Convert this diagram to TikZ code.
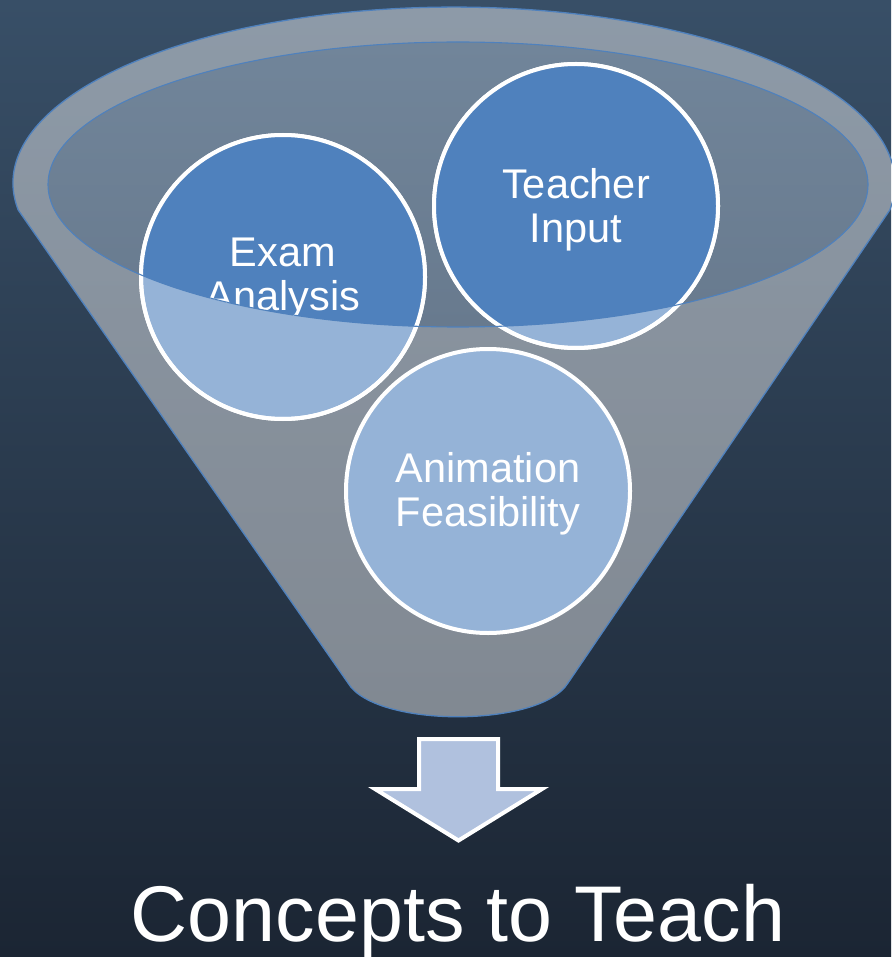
\documentclass[tikz,border=0pt]{standalone}
\usepackage{fontspec}
\setmainfont{Liberation Sans}
\definecolor{bgtop}{HTML}{384F67}
\definecolor{bgbot}{HTML}{1B2533}
\definecolor{rimline}{HTML}{4F81BD}
\definecolor{mouthtop}{HTML}{71859A}
\definecolor{mouthbot}{HTML}{687A8E}
\definecolor{darkdisc}{HTML}{4F81BD}
\definecolor{lightdisc}{HTML}{95B3D7}
\definecolor{arrowfill}{HTML}{B0C1DE}
\begin{document}
\begin{tikzpicture}[x=1pt,y=1pt,
  lbl/.style={text=white, font=\fontsize{41.5}{44}\selectfont, inner sep=0pt, anchor=base},
  disc/.style={circle, inner sep=0pt, minimum size=284pt, line width=4pt, draw=white, fill=lightdisc},
  ring/.style={draw=white, line width=4pt},
  outline/.style={draw=rimline, line width=1.3pt}]
\useasboundingbox (0,0) rectangle (891,-957);
% backdrop
\shade[top color=bgtop, bottom color=bgbot] (0,0) rectangle (891,-957);

% funnel body: top rim arc, tapering sides, rounded spout
\path[fill=white, fill opacity=0.43, outline]
  (18.2,-210) arc[start angle=188.8, end angle=-8.8, x radius=441pt, y radius=176pt]
  -- (568,-683) .. controls (540,-728) and (375,-728) .. (348,-683) -- cycle;

% funnel mouth
\shade[top color=mouthtop, bottom color=mouthbot] (458,-184.5) ellipse [x radius=410pt, y radius=142.5pt];

% the two inputs sitting in the mouth
\node[disc] (exam) at (283,-277) {};
\node[disc] (teacher) at (576,-206) {};

\begin{scope}
  \clip (458,-184.5) ellipse [x radius=410pt, y radius=142.5pt];
  \fill[darkdisc] (exam.center) circle [radius=142pt];
  \fill[darkdisc] (teacher.center) circle [radius=142pt];
  \node[lbl] (examA) at (283,-266) {Exam};
  \node[lbl] (examB) at (283,-310) {Analysis};
\end{scope}
\node[lbl] (teacherA) at (576,-199) {Teacher};
\node[lbl] (teacherB) at (576,-243) {Input};
\draw[ring] (exam.center) circle [radius=142pt];
\draw[ring] (teacher.center) circle [radius=142pt];

\draw[outline, line width=1.1pt] (458,-184.5) ellipse [x radius=410pt, y radius=142.5pt];

% third input in the neck
\node[disc] (anim) at (488,-491) {};
\node[lbl] (animA) at (488,-482) {Animation};
\node[lbl] (animB) at (488,-526) {Feasibility};

% output arrow
\draw[ring, fill=arrowfill, line join=miter]
  (419,-739) -- (498,-739) -- (498,-789) -- (542,-789) -- (458.5,-840.5)
  -- (375,-789) -- (419,-789) -- cycle;

\node[text=white, font=\fontsize{79}{90}\selectfont, inner sep=0pt, anchor=base] (result) at (458,-941) {Concepts to Teach};
\end{tikzpicture}
\end{document}
